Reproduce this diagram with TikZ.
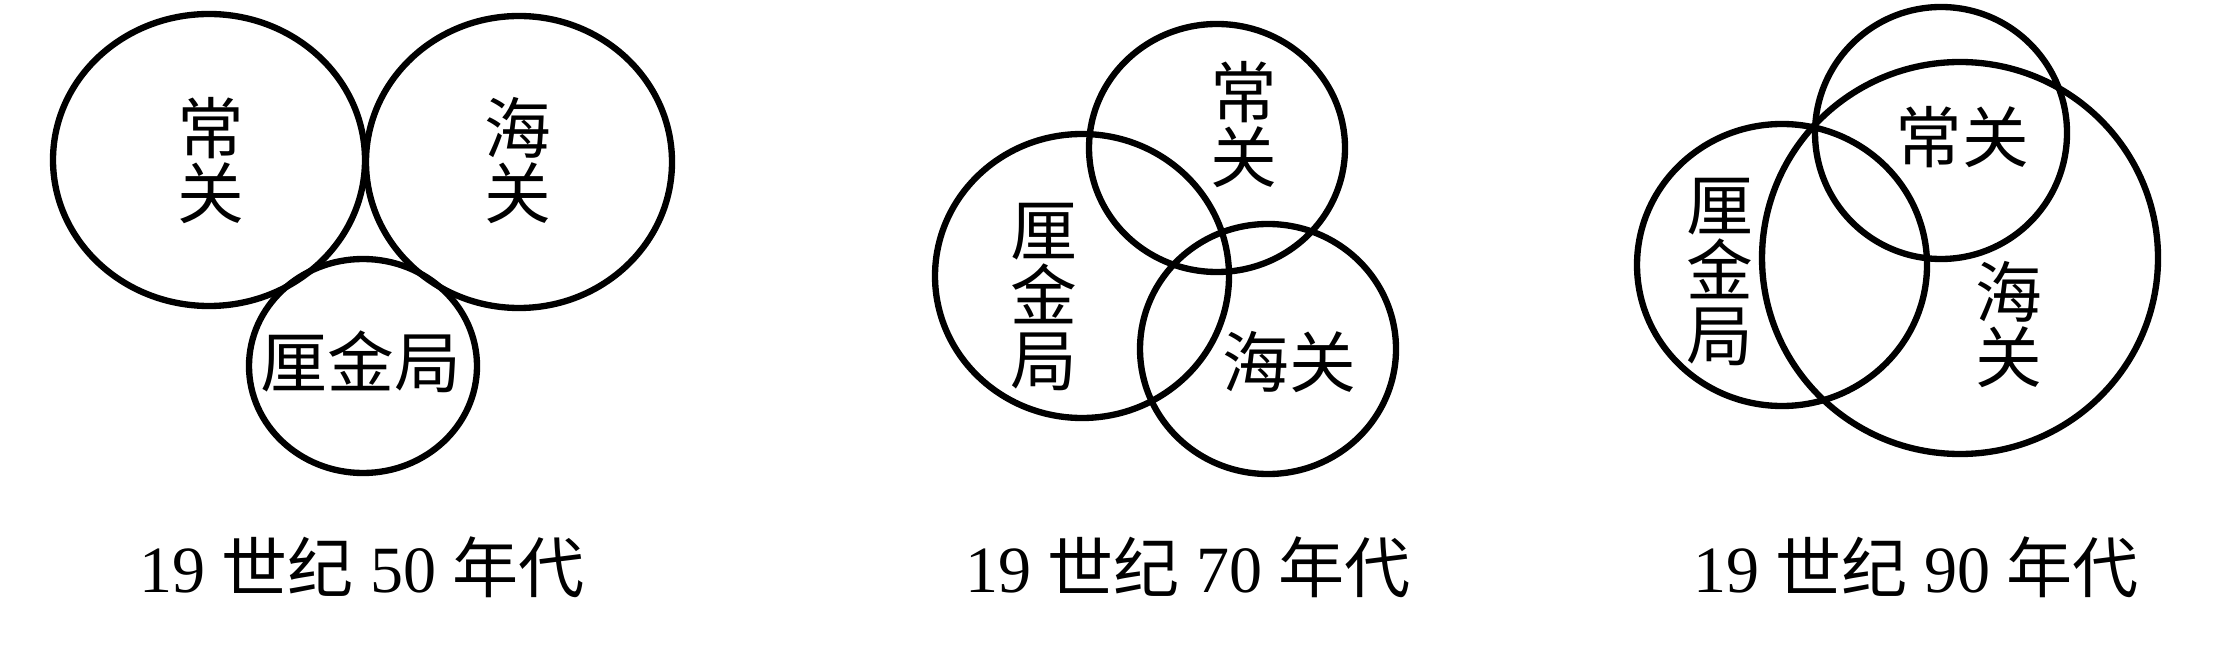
\documentclass[tikz,border=0pt]{standalone}
\usepackage{fontspec}
\setmainfont{Liberation Serif}
\newfontfamily\cjk{Noto Sans CJK SC}
\usepackage{tikz}

\begin{document}
\begin{tikzpicture}[x=0.1mm, y=-0.1mm]
            \tikzstyle{ring} = [line width=1.8pt]
            \tikzstyle{tag} = [inner sep=0pt, align=center, font=\cjk\fontsize{19pt}{18.5pt}\selectfont]
            \tikzstyle{era} = [inner sep=0pt, anchor=base, font=\fontsize{18.8pt}{20pt}\selectfont]
            \useasboundingbox (0,0) rectangle (2219,661);

            % 19 世纪 50 年代
            \draw [ring] (209,160) ellipse [x radius=156, y radius=146];
            \draw [ring] (519,162) ellipse [x radius=153, y radius=146];
            \draw [ring] (363,366) ellipse [x radius=114, y radius=107];
            \node [tag] (C50) at (211,161) {常\\关};
            \node [tag] (H50) at (518,161) {海\\关};
            \node [tag] (L50) at (361,362) {厘金局};
            \node [era] (T50) at (362,592) {19 {\cjk 世纪} 50 {\cjk 年代}};

            % 19 世纪 70 年代
            \draw [ring] (1217,148) ellipse [x radius=128, y radius=124];
            \draw [ring] (1082,276) ellipse [x radius=147, y radius=142];
            \draw [ring] (1268,349) ellipse [x radius=128, y radius=125];
            \node [tag] (C70) at (1244,125) {常\\关};
            \node [tag] (L70) at (1044,297) {厘\\金\\局};
            \node [tag] (H70) at (1289,362) {海关};
            \node [era] (T70) at (1188,592) {19 {\cjk 世纪} 70 {\cjk 年代}};

            % 19 世纪 90 年代
            \draw [ring] (1941,133) ellipse [x radius=126, y radius=126];
            \draw [ring] (1960,258) ellipse [x radius=198, y radius=196];
            \draw [ring] (1782,265) ellipse [x radius=145, y radius=141];
            \node [tag] (C90) at (1962,137) {常关};
            \node [tag] (L90) at (1720,272) {厘\\金\\局};
            \node [tag] (H90) at (2009,325) {海\\关};
            \node [era] (T90) at (1916,592) {19 {\cjk 世纪} 90 {\cjk 年代}};
        \end{tikzpicture}
\end{document}
